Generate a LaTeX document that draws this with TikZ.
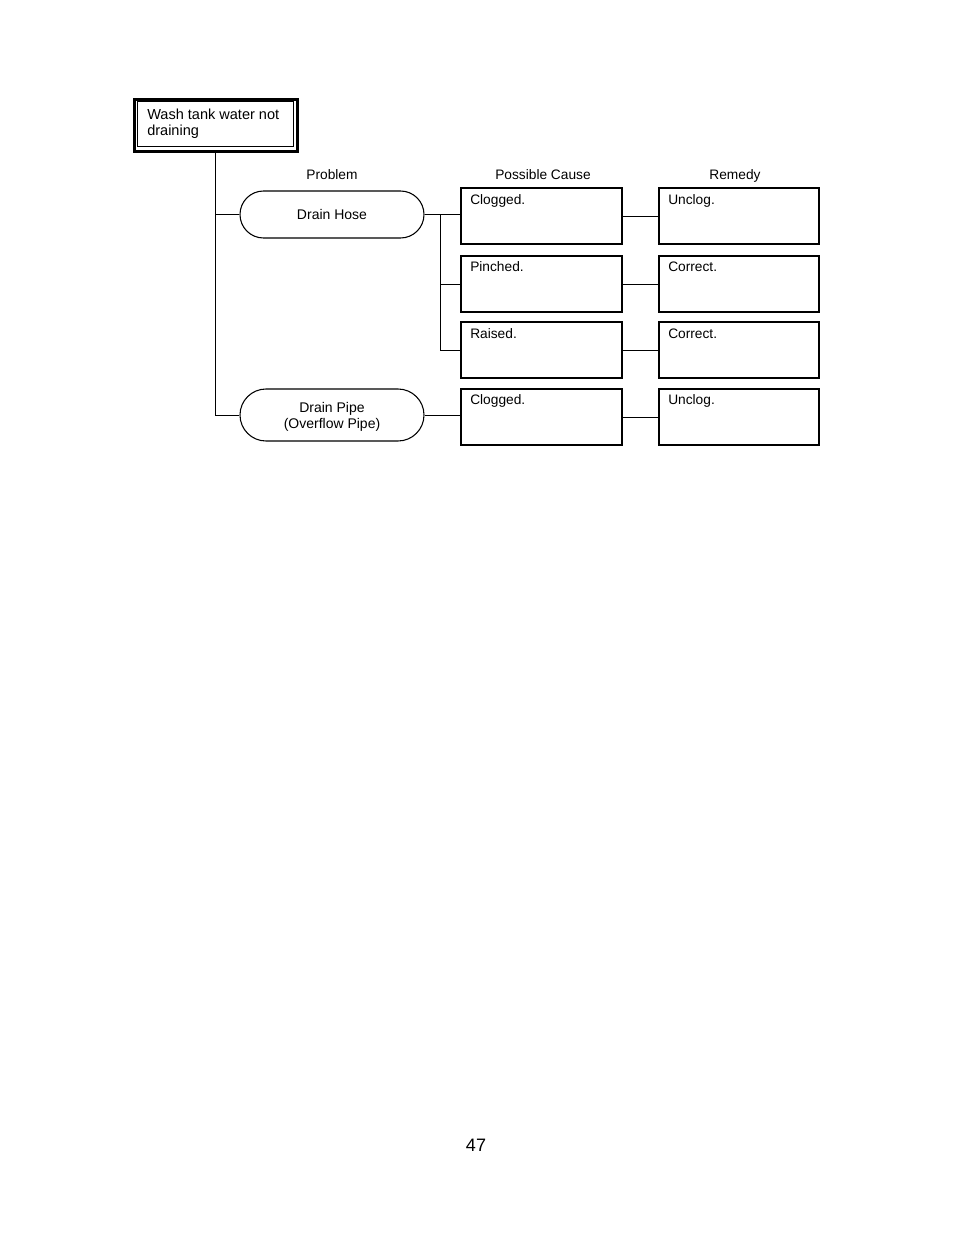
\documentclass[tikz,border=0pt]{standalone}
\usepackage{fontspec}
\setmainfont{Liberation Sans}
\usetikzlibrary{shapes.misc}
\begin{document}
\begin{tikzpicture}[x=0.75pt,y=-0.75pt,
  txt/.style={font=\fontsize{10.3pt}{12pt}\selectfont, inner sep=0pt},
  conn/.style={line width=0.7pt},
  pill/.style={rounded rectangle, draw, line width=0.8pt, minimum width=138pt, inner sep=0pt,
     font=\fontsize{10.5pt}{12pt}\selectfont, align=center},
  cbox/.style={draw, line width=1.5pt, minimum width=120.5pt, minimum height=42pt, inner sep=0pt, anchor=north west},
  btxt/.style={font=\fontsize{10.3pt}{12pt}\selectfont, inner sep=0pt, anchor=north west}
]
\useasboundingbox (0,0) rectangle (954,1235);

% title box
\node[draw, line width=2.7pt, minimum width=122.5pt, minimum height=39pt, inner sep=0pt, anchor=north west] (tout) at (132.5,97.5) {};
\node[draw, line width=0.7pt, minimum width=117pt, minimum height=34pt, inner sep=0pt, anchor=north west] (tin) at (136.5,101) {};
\node[btxt, font=\fontsize{10.9pt}{12.5pt}\selectfont, align=left] (ttxt) at (147,108.5) {Wash tank water not\\draining};

% headers
\node[txt, anchor=base] (hprob) at (332,179) {Problem};
\node[txt, anchor=base] (hcause) at (543,179) {Possible Cause};
\node[txt, anchor=base] (hrem) at (735,179) {Remedy};

% problems
\node[pill, minimum height=35.25pt] (hose) at (332,214.5) {Drain Hose};
\node[pill, minimum height=39pt] (pipe) at (332,415) {};
\node[txt, font=\fontsize{10.5pt}{12pt}\selectfont, align=center] (pipetxt) at (332,417) {Drain Pipe\\(Overflow Pipe)};

% cause boxes
\node[cbox] (c1) at (460,187) {};
\node[cbox] (c2) at (460,255) {};
\node[cbox] (c3) at (460,321) {};
\node[cbox] (c4) at (460,388) {};
% remedy boxes
\node[cbox] (r1) at (657.5,187) {};
\node[cbox] (r2) at (657.5,255) {};
\node[cbox] (r3) at (657.5,321) {};
\node[cbox] (r4) at (657.5,388) {};

% box texts
\node[btxt] (t1) at (470,194.5) {Clogged.};
\node[btxt] (t2) at (470,261.5) {Pinched.};
\node[btxt] (t3) at (470,328.5) {Raised.};
\node[btxt] (t4) at (470,394.5) {Clogged.};
\node[btxt] (u1) at (668,194.5) {Unclog.};
\node[btxt] (u2) at (668,261.5) {Correct.};
\node[btxt] (u3) at (668,328.5) {Correct.};
\node[btxt] (u4) at (668,394.5) {Unclog.};

% connectors
\coordinate (trunkbot) at (215,415);
\draw[conn] (tout.south -| trunkbot) -- (trunkbot) -- (pipe.west);
\draw[conn] (hose.west -| trunkbot) -- (hose.west);
\coordinate (br) at (440,214.5);
\draw[conn] (hose.east) -- (br) -- (c1.west |- br);
\draw[conn] (br) -- (br |- c3.west) -- (c3.west);
\draw[conn] (br |- c2.west) -- (c2.west);
\draw[conn] (pipe.east) -- (c4.west |- pipe.east);
\draw[conn] (c1.east) -- (r1.west);
\draw[conn] (c2.east) -- (r2.west);
\draw[conn] (c3.east) -- (r3.west);
\draw[conn] (c4.east) -- (r4.west);

% page number
\node[txt, font=\fontsize{13.5pt}{16pt}\selectfont] (pg) at (476,1145) {47};
\end{tikzpicture}
\end{document}
